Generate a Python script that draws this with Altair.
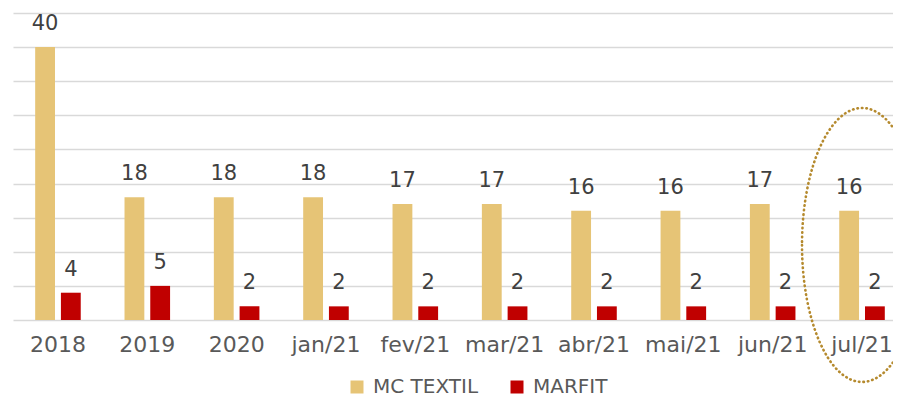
import altair as alt
import pandas as pd

categories = ["2018", "2019", "2020", "jan/21", "fev/21", "mar/21", "abr/21", "mai/21", "jun/21", "jul/21"]
mc_textil = [40, 18, 18, 18, 17, 17, 16, 16, 17, 16]
marfit = [4, 5, 2, 2, 2, 2, 2, 2, 2, 2]
series = ["MC TEXTIL", "MARFIT"]
colors = ["#E6C476", "#C00000"]
highlight_cat = ["jul/21"]
highlight_y = [11]

rows = []
for c, a, b in zip(categories, mc_textil, marfit):
    rows.append({"cat": c, "serie": "MC TEXTIL", "v": a})
    rows.append({"cat": c, "serie": "MARFIT", "v": b})
df = pd.DataFrame(rows)
hl = pd.DataFrame({"cat": highlight_cat, "v": highlight_y})

FONT = "DejaVu Sans"

x = alt.X("cat:N", sort=categories,
          scale=alt.Scale(paddingInner=0.49, paddingOuter=0.17, align=0.73),
          axis=alt.Axis(title=None, labelAngle=0, ticks=False, domain=False,
                        labelFontSize=22, labelColor="#595959", labelPadding=14,
                        labelFont=FONT, grid=False, labelOverlap=False))
y = alt.Y("v:Q", scale=alt.Scale(domain=[0, 45], nice=False),
          axis=alt.Axis(title=None, labels=False, ticks=False, domain=False,
                        values=list(range(0, 50, 5)), gridColor="#D9D9D9", gridWidth=1.3))
xo = alt.XOffset("serie:N", sort=series, scale=alt.Scale(paddingInner=0.23, paddingOuter=0))
color = alt.Color("serie:N", sort=series,
                  scale=alt.Scale(domain=series, range=colors),
                  legend=alt.Legend(title=None, orient="none", direction="horizontal",
                                    legendX=334, legendY=364,
                                    symbolType="square", symbolSize=169, labelFontSize=20,
                                    labelColor="#595959", labelFont=FONT, columnPadding=28,
                                    labelOffset=6, symbolStrokeWidth=0))

bars = alt.Chart(df).mark_bar().encode(x=x, y=y, xOffset=xo, color=color)

labels = alt.Chart(df).mark_text(baseline="alphabetic", dy=-17, fontSize=21,
                                 color="#404040", font=FONT).encode(
    x=x, xOffset=xo, y=y, text="v:Q",
)

ellipse_path = "M -0.438,0 A 0.438,1 0 1,0 0.438,0 A 0.438,1 0 1,0 -0.438,0 Z"
ellipse = alt.Chart(hl).mark_point(
    shape=ellipse_path, size=75076, filled=False, stroke="#B58A2E",
    strokeWidth=2.6, strokeDash=[0.5, 4], strokeCap="round", opacity=1,
).encode(x=x, y=y)

chart = alt.layer(bars, labels, ellipse).properties(
    width=880, height=307,
    padding={"left": 5, "top": 5, "right": 0, "bottom": 78},
    autosize=alt.AutoSizeParams(type="none"),
).configure_view(stroke=None)

chart.save("out.html", embed_options={"renderer": "svg", "actions": False})
